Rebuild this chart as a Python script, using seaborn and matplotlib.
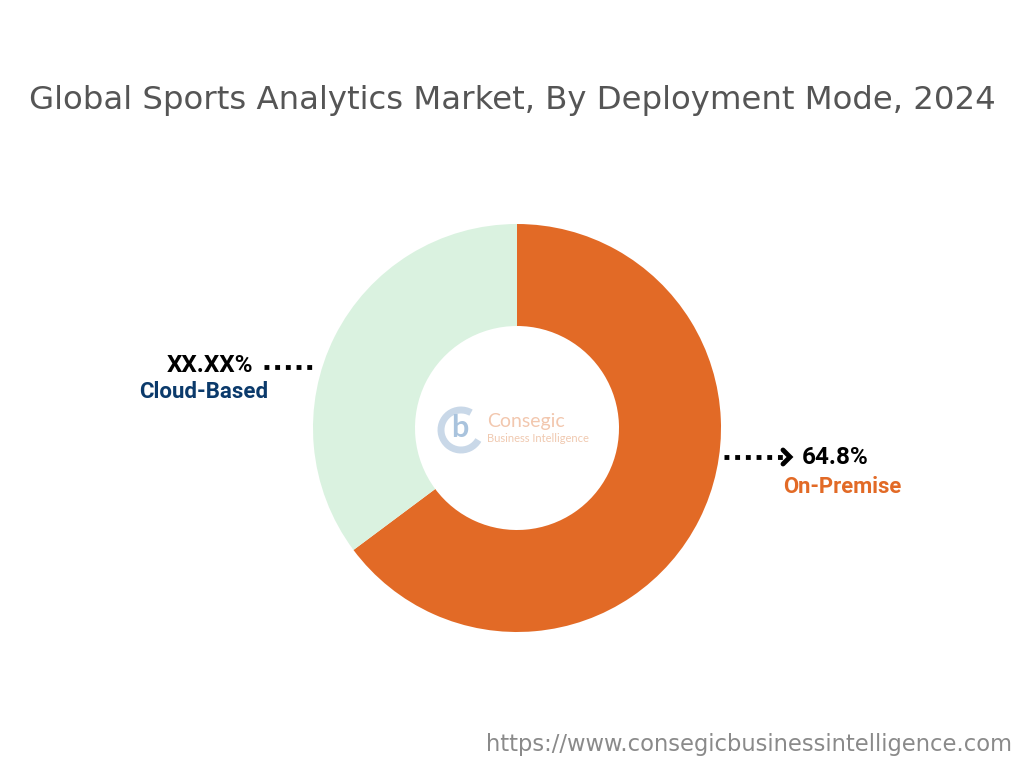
import matplotlib.pyplot as plt
import seaborn as sns
from matplotlib.patches import Arc

sns.set_theme(style="white")
plt.rcParams['font.family'] = ['DejaVu Sans']

# data
segments = ['On-Premise', 'Cloud-Based']
shares = [64.8, 35.2]
share_labels = ['64.8%', 'XX.XX%']
colors = ['#E26A26', '#DAF2E0']

fig = plt.figure(figsize=(10.24, 7.68), dpi=100)
ax = fig.add_axes([0, 0, 1, 1])
ax.set_xlim(0, 1024)
ax.set_ylim(0, 768)
ax.set_aspect('equal')
ax.axis('off')

# donut, pixel-based placement
cx, cy, r = 517, 768 - 428, 204
ax.pie(shares, colors=colors, startangle=90, counterclock=False,
       center=(cx, cy), radius=r, wedgeprops=dict(width=102, edgecolor='none'))
ax.set_xlim(0, 1024)
ax.set_ylim(0, 768)

# title
fig.text(0.5, 1 - 100 / 768, 'Global Sports Analytics Market, By Deployment Mode, 2024',
         ha='center', va='center', fontsize=23.3, color='#555555')

# Cloud-Based label
ax.plot([264, 315], [768 - 367] * 2, color='black', lw=3.5, ls=(0, (1, 1.2)),
        solid_capstyle='butt', dash_capstyle='butt')
ax.text(253, 768 - 366, share_labels[1], ha='right', va='center',
        fontsize=17.5, fontweight='bold', color='black', family='Roboto')
ax.text(268, 768 - 392, segments[1], ha='right', va='center',
        fontsize=16, fontweight='bold', color='#0B3A6B', family='Roboto')

# On-Premise label
ax.plot([724, 784], [768 - 457] * 2, color='black', lw=3.5, ls=(0, (1, 1.2)),
        solid_capstyle='butt', dash_capstyle='butt')
ax.plot([783, 790, 783], [768 - 450, 768 - 457, 768 - 464], color='black', lw=3.5,
        solid_joinstyle='miter')
ax.text(802, 768 - 457, share_labels[0], ha='left', va='center',
        fontsize=17.5, fontweight='bold', color='black', family='Roboto')
ax.text(783, 768 - 487, segments[0], ha='left', va='center',
        fontsize=15.8, fontweight='bold', color='#E26A26', family='Roboto')

# faint watermark logo in the hole
ax.add_patch(Arc((461, 768 - 430), 40, 40, theta1=60, theta2=330, lw=5, color='#C9D8E8'))
ax.text(460, 768 - 428, 'b', ha='center', va='center', fontsize=22, fontweight='bold',
        color='#A9C3DD', family='Lato')
ax.text(487, 768 - 422, 'Consegic', ha='left', va='center', fontsize=14, color='#F2C7AE',
        family='Lato')
ax.text(487, 768 - 439, 'Business Intelligence', ha='left', va='center', fontsize=8,
        color='#F0C9B0', family='Lato')

# url footer
fig.text(1 - 12 / 1024, 1 - 744 / 768, 'https://www.consegicbusinessintelligence.com',
         ha='right', va='center', fontsize=16.3, color='#8A8A8A')

fig.savefig('out.png', dpi=100, facecolor='white')
